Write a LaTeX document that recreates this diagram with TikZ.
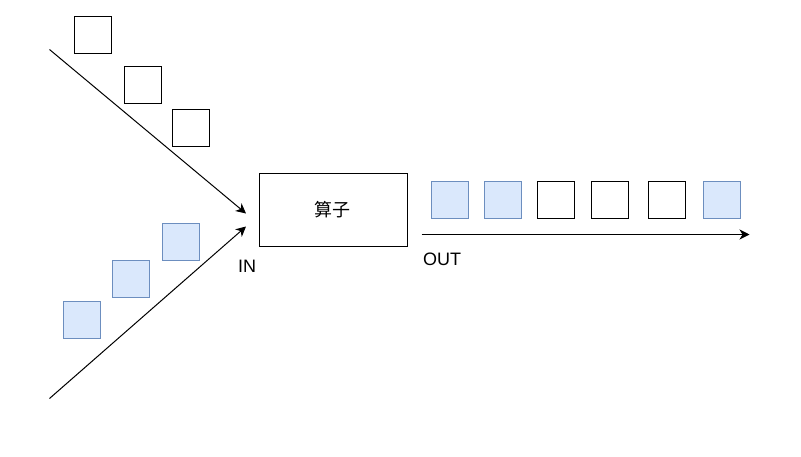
\documentclass[tikz,border=0pt]{standalone}
\usepackage{fontspec}
\setmainfont{Liberation Sans}
\newfontfamily\cjk{Noto Sans CJK SC}
\usetikzlibrary{arrows.meta}
\definecolor{bluefill}{HTML}{DAE8FC}
\definecolor{bluedraw}{HTML}{6C8EBF}
\begin{document}
\begin{tikzpicture}[x=1pt,y=-1pt,
  sq/.style={draw=black,line width=1pt,minimum width=37pt,minimum height=37pt,inner sep=0pt,anchor=north west},
  bsq/.style={sq,draw=bluedraw,fill=bluefill},
  arr/.style={line width=1pt,-{Stealth[length=10pt,width=10pt,inset=3pt]}},
  lbl/.style={font=\fontsize{18}{20}\selectfont,inner sep=0pt}]
\useasboundingbox (0,0) rectangle (801,456);
% top-left input squares
\node[sq] (a1) at (74,16) {};
\node[sq] (a2) at (124,65.5) {};
\node[sq] (a3) at (172,108.5) {};
% bottom-left input squares
\node[bsq] (b1) at (161.5,223) {};
\node[bsq] (b2) at (112,259.5) {};
\node[bsq] (b3) at (63,301) {};
% operator box
\node[draw=black,line width=1pt,minimum width=148pt,minimum height=73.5pt,inner sep=0pt,anchor=north west] (op) at (258.5,172.5) {};
\node[lbl,font=\cjk\fontsize{18}{20}\selectfont] (optext) at (332.5,209.5) {算子};
% labels
\node[lbl] (in) at (247,266) {IN};
\node[lbl] (out) at (442,259) {OUT};
% input arrows
\coordinate (s1) at (49.5,49.5);
\coordinate (e1) at (246,213.5);
\coordinate (s2) at (49.5,398.5);
\coordinate (e2) at (246,226.5);
\draw[arr] (s1) -- (e1);
\draw[arr] (s2) -- (e2);
% output squares
\node[bsq] (o1) at (430.5,181) {};
\node[bsq] (o2) at (483.5,181) {};
\node[sq] (o3) at (537,181) {};
\node[sq] (o4) at (590.5,181) {};
\node[sq] (o5) at (648,181) {};
\node[bsq] (o6) at (703,181) {};
% output arrow
\coordinate (s3) at (421.5,234.5);
\coordinate (e3) at (749.5,234.5);
\draw[arr] (s3) -- (e3);
\end{tikzpicture}
\end{document}
